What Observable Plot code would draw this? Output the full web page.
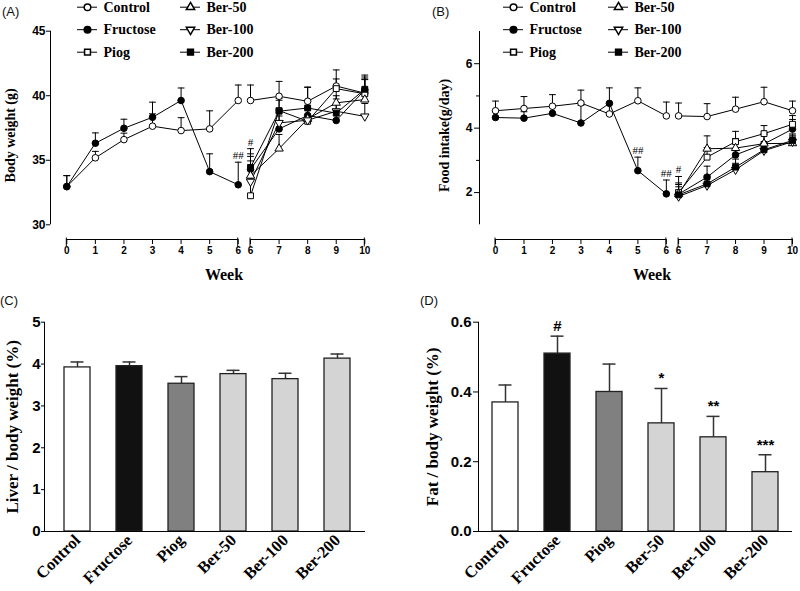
<!DOCTYPE html>
<html><head><meta charset="utf-8">
<script src="https://cdn.jsdelivr.net/npm/d3@7"></script>
<script src="https://cdn.jsdelivr.net/npm/@observablehq/plot@0.6"></script>
<style>
body{margin:0;background:#fff;}
#root{position:relative;width:800px;height:591px;overflow:hidden;background:#fff;}
.plabel{position:absolute;font-family:"Liberation Sans",Arial,sans-serif;font-size:13px;color:#111;}
</style></head><body><div id="root"></div>
<script>
// ---------------- DATA ----------------
const groups = ["Control", "Fructose", "Piog", "Ber-50", "Ber-100", "Ber-200"];
const weeksPre = [0, 1, 2, 3, 4, 5, 6];
const weeksPost = [6, 7, 8, 9, 10];

// (A) Body weight (g): mean and error (upper bar)
const bwPreControl      = [32.96, 35.19, 36.60, 37.64, 37.30, 37.43, 39.63];
const bwPreControlErr   = [0.85, 0.50, 0.50, 0.96, 1.00, 1.40, 1.20];
const bwPreFructose     = [32.96, 36.32, 37.48, 38.33, 39.63, 34.12, 33.10];
const bwPreFructoseErr  = [0.85, 0.80, 0.70, 1.17, 0.97, 1.38, 1.75];
const bwPostControl     = [39.63, 39.96, 39.57, 40.75, 40.20];
const bwPostControlErr  = [1.20, 1.15, 1.10, 1.25, 1.10];
const bwPostFructose    = [34.30, 37.43, 38.47, 38.08, 40.45];
const bwPostFructoseErr = [1.20, 1.00, 1.10, 0.90, 1.00];
const bwPostPiog        = [32.25, 38.85, 38.02, 40.55, 40.15];
const bwPostPiogErr     = [1.30, 0.80, 0.90, 0.75, 1.10];
const bwPostBer50       = [33.80, 35.90, 38.20, 39.45, 39.70];
const bwPostBer50Err    = [1.50, 1.10, 0.90, 1.00, 0.80];
const bwPostBer100      = [33.35, 37.90, 38.10, 38.80, 38.40];
const bwPostBer100Err   = [1.60, 1.00, 1.00, 1.20, 1.00];
const bwPostBer200      = [34.45, 38.80, 39.05, 38.65, 40.50];
const bwPostBer200Err   = [1.45, 1.00, 1.60, 1.10, 1.10];
const bwNotes = [
  {seg: "pre", week: 6, label: "##", over: ["Fructose"]},
  {seg: "post", week: 6, label: "#", over: ["Fructose", "Piog", "Ber-50", "Ber-100", "Ber-200"]}
];

// (B) Food intake (g/day)
const fiPreControl      = [4.54, 4.61, 4.68, 4.78, 4.44, 4.85, 4.38];
const fiPreControlErr   = [0.30, 0.37, 0.36, 0.40, 0.35, 0.40, 0.43];
const fiPreFructose     = [4.33, 4.31, 4.46, 4.16, 4.77, 2.68, 1.96];
const fiPreFructoseErr  = [0.18, 0.20, 0.20, 0.55, 0.48, 0.42, 0.43];
const fiPostControl     = [4.38, 4.36, 4.59, 4.82, 4.54];
const fiPostControlErr  = [0.40, 0.40, 0.37, 0.45, 0.30];
const fiPostFructose    = [1.95, 2.48, 3.17, 3.51, 3.97];
const fiPostFructoseErr = [0.35, 0.34, 0.35, 0.30, 0.30];
const fiPostPiog        = [2.00, 3.10, 3.58, 3.83, 4.12];
const fiPostPiogErr     = [0.50, 0.30, 0.32, 0.25, 0.27];
const fiPostBer50       = [1.95, 3.36, 3.38, 3.52, 3.53];
const fiPostBer50Err    = [0.30, 0.40, 0.30, 0.30, 0.20];
const fiPostBer100      = [1.88, 2.22, 2.71, 3.30, 3.58];
const fiPostBer100Err   = [0.20, 0.20, 0.20, 0.20, 0.20];
const fiPostBer200      = [1.93, 2.27, 2.79, 3.33, 3.62];
const fiPostBer200Err   = [0.25, 0.25, 0.25, 0.25, 0.20];
const fiNotes = [
  {seg: "pre", week: 5, label: "##", over: ["Fructose"]},
  {seg: "pre", week: 6, label: "##", over: ["Fructose"]},
  {seg: "post", week: 6, label: "#", over: ["Fructose", "Piog", "Ber-50", "Ber-100", "Ber-200"]}
];

// (C) Liver / body weight (%)
const liverRatio = [3.92, 3.95, 3.53, 3.76, 3.64, 4.13];
const liverErr   = [0.13, 0.10, 0.17, 0.09, 0.14, 0.11];

// (D) Fat / body weight (%)
const fatRatio = [0.37, 0.51, 0.40, 0.31, 0.27, 0.17];
const fatErr   = [0.05, 0.05, 0.08, 0.10, 0.06, 0.05];
const fatSig   = ["", "#", "", "*", "**", "***"];

// ---------------- STYLE ----------------
const sq3 = Math.sqrt(3);
const invTriangle = {draw(ctx, size) {
  const y = -Math.sqrt(size / (sq3 * 3));
  ctx.moveTo(0, -y * 2); ctx.lineTo(-sq3 * y, y); ctx.lineTo(sq3 * y, y); ctx.closePath();
}};
const capSymbol = {draw(ctx, size) {
  const w = Math.sqrt(size / Math.PI);
  ctx.moveTo(-w, 0); ctx.lineTo(w, 0);
}};
const seriesStyle = {
  "Control":  {symbol: "circle", fill: "white", r: 3.3},
  "Fructose": {symbol: "circle", fill: "black", r: 3.3},
  "Piog":     {symbol: "square", fill: "white", r: 3.3},
  "Ber-50":   {symbol: "triangle", fill: "white", r: 3.1},
  "Ber-100":  {symbol: invTriangle, fill: "white", r: 3.1},
  "Ber-200":  {symbol: "square", fill: "black", r: 3.3}
};
const barFill = ["#ffffff", "#111111", "#808080", "#d4d4d4", "#d4d4d4", "#d4d4d4"];
const SERIF = "Liberation Serif, Times New Roman, serif";
const SANS = "Liberation Sans, Arial, sans-serif";
const G = 0.43; // horizontal gap of the broken week axis, in weeks
const pos = (seg, w) => seg === "pre" ? w : w + G;

// ---------------- HELPERS ----------------
function rows(seg, weeks, name, vals, errs) {
  return weeks.map((w, i) => ({seg, name, week: w, xp: pos(seg, w), v: vals[i], e: errs[i]}));
}

function axisLines({xSegments = [], yAxis = true, endTicks = false}) {
  return (index, {x, y}, values, dims) => {
    const g = d3.create("svg:g").attr("stroke", "black").attr("fill", "none").attr("stroke-width", 1);
    const yb = dims.height - dims.marginBottom + 0.5;
    for (const [a, b] of xSegments) {
      g.append("line").attr("x1", x(a)).attr("x2", x(b)).attr("y1", yb).attr("y2", yb);
      if (endTicks) for (const v of [a, b]) g.append("line").attr("x1", x(v)).attr("x2", x(v)).attr("y1", yb - 2).attr("y2", yb + 7);
    }
    if (yAxis) {
      const [d0, d1] = y.domain();
      const xl = dims.marginLeft + 0.5;
      g.append("line").attr("x1", xl).attr("x2", xl).attr("y1", y(d0)).attr("y2", y(d1));
    }
    return g.node();
  };
}

function linePanel({data, notes, yDomain, yRange, yTicks, yMinor, xRange, marginLeft, marginRight, yLabel, yLabelDx, tickSize, tickPadding, tickFont}) {
  const tickPos = [...weeksPre.map(w => pos("pre", w)), ...weeksPost.map(w => pos("post", w))];
  const noteRows = notes.map(n => {
    const pts = data.filter(d => d.seg === n.seg && d.week === n.week && n.over.includes(d.name));
    return {...n, xp: pos(n.seg, n.week), top: d3.max(pts, d => d.v + d.e)};
  });
  const marks = [
    axisLines({xSegments: [[pos("pre", weeksPre[0]), pos("pre", weeksPre.at(-1))], [pos("post", weeksPost[0]), pos("post", weeksPost.at(-1))]], endTicks: true}),
    Plot.axisY({ticks: yTicks, tickFormat: d => String(d), tickSize, tickPadding, label: null, fontSize: tickFont, fontWeight: "bold", fontFamily: SANS}),
    yMinor ? Plot.axisY({ticks: yMinor, tickSize: 3, tickFormat: () => "", label: null}) : null,
    Plot.axisX({ticks: tickPos, tickFormat: d => String(Math.round(d > 6.1 ? d - G : d)), tickSize: 5, tickPadding: 2, label: null, fontSize: 10, fontWeight: "bold", fontFamily: SANS}),
    Plot.line(data, {x: "xp", y: "v", z: d => d.name + "|" + d.seg, stroke: "black", strokeWidth: 1}),
    Plot.ruleX(data, {x: "xp", y1: "v", y2: d => d.v + d.e, stroke: "black", strokeWidth: 1}),
    Plot.dot(data, {x: "xp", y: d => d.v + d.e, symbol: capSymbol, r: 3.4, stroke: "black", strokeWidth: 1, fill: "none"}),
    ...groups.map(gname => Plot.dot(data.filter(d => d.name === gname), {
      x: "xp", y: "v", symbol: seriesStyle[gname].symbol, r: seriesStyle[gname].r,
      fill: seriesStyle[gname].fill, stroke: "black", strokeWidth: 1
    })),
    Plot.text(noteRows, {x: "xp", y: "top", text: "label", lineAnchor: "bottom", dy: -3, fontSize: 11, fontFamily: SERIF, fill: "black"}),
    Plot.text([yLabel], {frameAnchor: "left", textAnchor: "middle", lineAnchor: "middle", rotate: -90, dx: yLabelDx, fontSize: 14, fontWeight: "bold", fontFamily: SERIF, fill: "black"}),
    Plot.text(["Week"], {frameAnchor: "bottom", textAnchor: "middle", lineAnchor: "middle", dx: 16, dy: 35, fontSize: 16, fontWeight: "bold", fontFamily: SERIF, fill: "black"})
  ];
  return Plot.plot({
    width: 400, height: 296,
    marginLeft, marginRight, marginTop: yRange[1], marginBottom: 57,
    x: {domain: [0, 10 + G], range: xRange},
    y: {domain: yDomain, range: yRange},
    style: {fontFamily: SANS, background: "transparent", overflow: "visible", color: "black"},
    marks
  });
}

function legendPlot(x0, colGap) {
  const items = groups.map((name, i) => ({name, cx: x0 + Math.floor(i / 3) * colGap, cy: 6.7 + (i % 3) * 22.5}));
  return Plot.plot({
    width: 400, height: 64, margin: 0,
    x: {type: "identity", axis: null}, y: {type: "identity", axis: null},
    style: {background: "transparent", overflow: "visible", color: "black"},
    marks: [
      Plot.ruleY(items, {y: "cy", x1: d => d.cx - 10, x2: d => d.cx + 10, stroke: "black", strokeWidth: 1}),
      ...items.map(it => Plot.dot([it], {x: "cx", y: "cy", symbol: seriesStyle[it.name].symbol, r: seriesStyle[it.name].r, fill: seriesStyle[it.name].fill, stroke: "black"})),
      Plot.text(items, {x: d => d.cx + 16, y: "cy", text: "name", textAnchor: "start", fontSize: 14, fontWeight: "bold", fontFamily: SERIF, fill: "black"})
    ]
  });
}

function barPanel({vals, errs, sig, yDomain, yTicks, tickFormat, xRange, marginLeft, marginRight, yLabel, yLabelDx, tickSize, tickPadding}) {
  const data = groups.map((name, i) => ({name, v: vals[i], e: errs[i], sig: sig ? sig[i] : "", fill: barFill[i]}));
  return Plot.plot({
    width: 400, height: 296,
    marginLeft, marginRight, marginTop: 26.7, marginBottom: 60,
    x: {domain: groups, range: xRange, paddingInner: 0.5, paddingOuter: 0},
    y: {domain: yDomain},
    color: {type: "identity"},
    style: {fontFamily: SANS, background: "transparent", overflow: "visible", color: "black"},
    marks: [
      Plot.ruleX(data, {x: "name", y1: "v", y2: d => d.v + d.e, stroke: "#333", strokeWidth: 1.5}),
      Plot.tickY(data, {x: "name", y: d => d.v + d.e, insetLeft: 6.5, insetRight: 6.5, stroke: "#333", strokeWidth: 1.5}),
      Plot.barY(data, {x: "name", y: "v", fill: "fill", stroke: "#222", strokeWidth: 1.3}),
      Plot.ruleY([yDomain[0]], {stroke: "black", strokeWidth: 1}),
      axisLines({}),
      Plot.axisY({ticks: yTicks, tickFormat, tickSize, tickPadding, label: null, fontSize: 15, fontWeight: "bold", fontFamily: SANS}),
      Plot.axisX({tickRotate: -45, tickSize: 0, tickPadding: 6, label: null, fontSize: 16.5, fontWeight: "bold", fontFamily: SERIF}),
      Plot.text(data.filter(d => d.sig), {x: "name", y: d => d.v + d.e, text: "sig", dy: -10, fontSize: 15, fontWeight: "bold", fontFamily: SANS, fill: "black"}),
      Plot.text([yLabel], {frameAnchor: "left", textAnchor: "middle", lineAnchor: "middle", rotate: -90, dx: yLabelDx, fontSize: 17, fontWeight: "bold", fontFamily: SERIF, fill: "black"})
    ]
  });
}

// ---------------- BUILD ----------------
const root = document.getElementById("root");
function place(el, left, top) { el.style.position = "absolute"; el.style.left = left + "px"; el.style.top = top + "px"; root.appendChild(el); }
function label(text, left, top) { const d = document.createElement("div"); d.className = "plabel"; d.textContent = text; d.style.left = left + "px"; d.style.top = top + "px"; root.appendChild(d); }

const bwData = [
  ...rows("pre", weeksPre, "Control", bwPreControl, bwPreControlErr),
  ...rows("pre", weeksPre, "Fructose", bwPreFructose, bwPreFructoseErr),
  ...rows("post", weeksPost, "Control", bwPostControl, bwPostControlErr),
  ...rows("post", weeksPost, "Fructose", bwPostFructose, bwPostFructoseErr),
  ...rows("post", weeksPost, "Piog", bwPostPiog, bwPostPiogErr),
  ...rows("post", weeksPost, "Ber-50", bwPostBer50, bwPostBer50Err),
  ...rows("post", weeksPost, "Ber-100", bwPostBer100, bwPostBer100Err),
  ...rows("post", weeksPost, "Ber-200", bwPostBer200, bwPostBer200Err)
];
const fiData = [
  ...rows("pre", weeksPre, "Control", fiPreControl, fiPreControlErr),
  ...rows("pre", weeksPre, "Fructose", fiPreFructose, fiPreFructoseErr),
  ...rows("post", weeksPost, "Control", fiPostControl, fiPostControlErr),
  ...rows("post", weeksPost, "Fructose", fiPostFructose, fiPostFructoseErr),
  ...rows("post", weeksPost, "Piog", fiPostPiog, fiPostPiogErr),
  ...rows("post", weeksPost, "Ber-50", fiPostBer50, fiPostBer50Err),
  ...rows("post", weeksPost, "Ber-100", fiPostBer100, fiPostBer100Err),
  ...rows("post", weeksPost, "Ber-200", fiPostBer200, fiPostBer200Err)
];

place(linePanel({data: bwData, notes: bwNotes, yDomain: [30, 45], yRange: [224.3, 30.7], yTicks: [30, 35, 40, 45],
  xRange: [66.3, 364.3], marginLeft: 50, marginRight: 35, yLabel: "Body weight (g)", yLabelDx: -40,
  tickSize: 4, tickPadding: 1, tickFont: 12}), 0, 0);
place(legendPlot(87, 103), 0, 0);

place(linePanel({data: fiData, notes: fiNotes, yDomain: [1, 7], yRange: [224.3, 31], yTicks: [2, 4, 6], yMinor: [3, 5],
  xRange: [95, 392], marginLeft: 79, marginRight: 8, yLabel: "Food intake(g/day)", yLabelDx: -35,
  tickSize: 5, tickPadding: 2, tickFont: 12}), 400, 0);
place(legendPlot(113, 105), 400, 0);

place(barPanel({vals: liverRatio, errs: liverErr, yDomain: [0, 5], yTicks: [0, 1, 2, 3, 4, 5], tickFormat: d => String(d),
  xRange: [63, 351], marginLeft: 44, marginRight: 35, yLabel: "Liver / body weight (%)", yLabelDx: -32,
  tickSize: 3, tickPadding: 1}), 0, 295);
place(barPanel({vals: fatRatio, errs: fatErr, sig: fatSig, yDomain: [0, 0.6], yTicks: [0, 0.2, 0.4, 0.6], tickFormat: d3.format(".1f"),
  xRange: [91, 379], marginLeft: 78, marginRight: 8, yLabel: "Fat / body weight (%)", yLabelDx: -46,
  tickSize: 5, tickPadding: 2}), 400, 295);

label("(A)", 2, 4);
label("(B)", 432, 4);
label("(C)", 0, 293);
label("(D)", 420, 293);
</script>
</body></html>
